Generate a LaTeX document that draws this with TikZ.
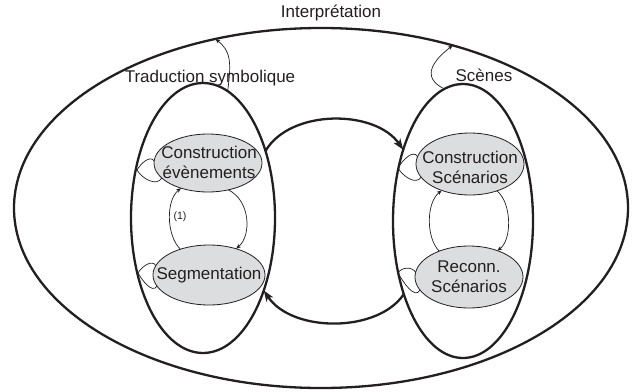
\documentclass[tikz,border=0pt]{standalone}
\usepackage{fontspec}
\setmainfont{Liberation Sans}
\usetikzlibrary{shapes.geometric,arrows.meta}
\definecolor{ink}{HTML}{231F20}
\definecolor{cellgray}{HTML}{DCDDDE}
\tikzset{
  bigell/.style={ellipse, draw=ink, line width=2.3bp, inner sep=0pt, outer sep=0pt},
  statenode/.style={ellipse, draw=ink, fill=cellgray, line width=0.8bp, inner sep=0pt, outer sep=0pt},
  txt/.style={font=\fontsize{17bp}{20bp}\selectfont, text=ink, inner sep=0pt, align=center},
  smalltxt/.style={font=\fontsize{10.6bp}{12bp}\selectfont, text=ink, inner sep=0pt},
  bigarrow/.style={draw=ink, line width=2.3bp, -{Stealth[length=11bp,width=8bp,inset=3bp]}},
  thinarrow/.style={draw=ink, line width=0.7bp, -{Stealth[length=5bp,width=4bp,inset=1.5bp]}},
  loopline/.style={draw=ink, line width=0.7bp}
}
\begin{document}
\begin{tikzpicture}[x=1bp,y=1bp]
\useasboundingbox (0,0) rectangle (633,391);
% outer and group ellipses
\node[bigell, minimum width=614bp, minimum height=360bp] (O) at (321,183) {};
\node[bigell, minimum width=144bp, minimum height=270bp] (L) at (203,173) {};
\node[bigell, minimum width=140bp, minimum height=274bp] (R) at (463,170) {};
% state nodes
\node[statenode, minimum width=108bp, minimum height=58bp] (ce) at (208,228) {};
\node[statenode, minimum width=112bp, minimum height=60bp] (seg) at (209,116) {};
\node[statenode, minimum width=108bp, minimum height=62bp] (cs) at (470,227) {};
\node[statenode, minimum width=108bp, minimum height=62bp] (rs) at (469,114) {};
\node[txt] (cet) at (209,229) {Construction\\évènements};
\node[txt] (segt) at (209,116) {Segmentation};
\node[txt] (cst) at (470,224) {Construction\\Scénarios};
\node[txt] (rst) at (469,114) {Reconn.\\Scénarios};
% labels
\node[txt] (interp) at (331,378) {Interprétation};
\node[txt] (trad) at (210,313) {Traduction symbolique};
\node[txt] (scenes) at (484,316) {Scènes};
\node[smalltxt] (one) at (180,174) {(1)};
% big transitions
\draw[bigarrow] (L.47.6) .. controls (290,282) and (375,282) .. (R.130);
\draw[bigarrow] (R.231) .. controls (378,58) and (292,58) .. (L.310.5);
% arrows up to outer ellipse
\draw[thinarrow] (L.79) .. controls +(4,30) and +(15,-12) .. (O.122);
\draw[thinarrow] (R.98) .. controls +(-25,12) and +(-18,-14) .. (O.51.6);
% inner transitions
\draw[thinarrow] (ce.-53) .. controls (250,191) and (252,156) .. (seg.44);
\draw[thinarrow] (seg.138) .. controls (166,156) and (166,191) .. (ce.223);
\draw[thinarrow] (cs.-45) .. controls (512,188) and (512,151) .. (rs.43);
\draw[thinarrow] (rs.139) .. controls (426,153) and (426,188) .. (cs.223);
% self loops
\coordinate (ceT) at (137,221);
\coordinate (segT) at (138,118);
\coordinate (csT) at (398,223);
\coordinate (rsT) at (398,118);
\draw[loopline] (ce.178) to[out=120,in=60] (ceT) to[out=-60,in=-120] (ce.198);
\draw[loopline] (seg.170) to[out=120,in=60] (segT) to[out=-60,in=-120] (seg.192);
\draw[loopline] (cs.172) to[out=120,in=60] (csT) to[out=-60,in=-120] (cs.195);
\draw[loopline] (rs.175) to[out=120,in=60] (rsT) to[out=-60,in=-120] (rs.195);
\end{tikzpicture}
\end{document}
